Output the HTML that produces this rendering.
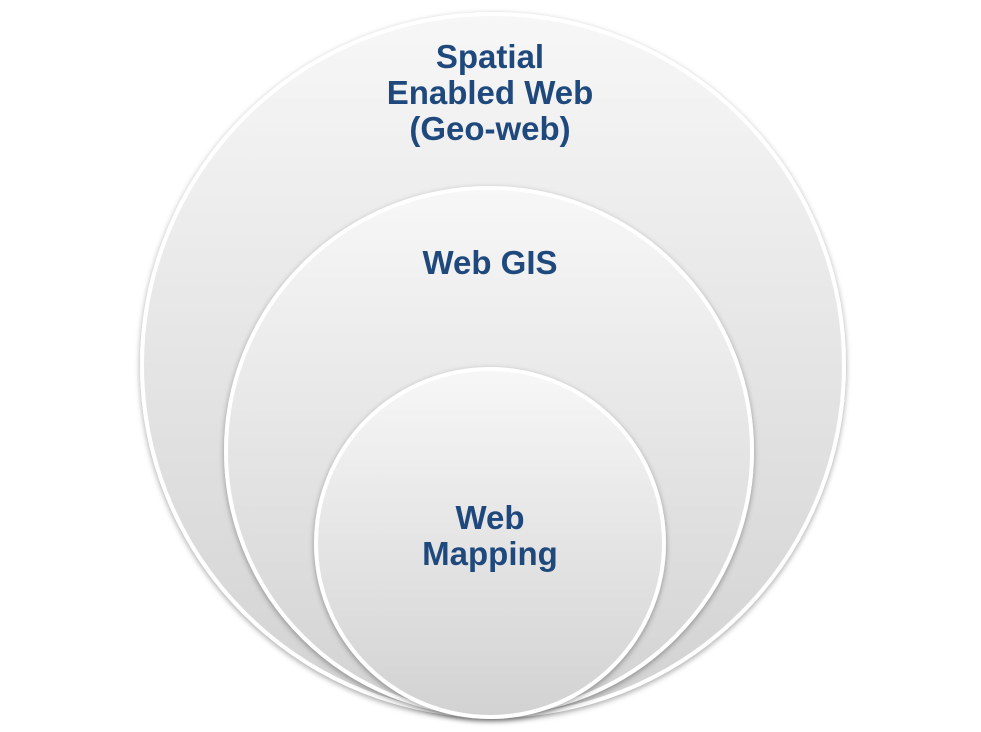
<!DOCTYPE html>
<html><head><meta charset="utf-8"><style>
body{margin:0;width:981px;height:727px;background:#fff;overflow:hidden;font-family:"Liberation Sans",Arial,sans-serif}
</style></head><body>
<svg width="981" height="727" xmlns="http://www.w3.org/2000/svg">
<defs>
<linearGradient id="g" x1="0" y1="0" x2="0" y2="1">
<stop offset="0" stop-color="#f7f7f7"/><stop offset="1" stop-color="#d2d2d2"/>
</linearGradient>
<filter id="s" x="-10%" y="-10%" width="120%" height="120%"><feDropShadow dx="0" dy="2" stdDeviation="3" flood-color="#000" flood-opacity="0.35"/></filter>
</defs>
<circle cx="493" cy="365" r="351" fill="url(#g)" stroke="#fff" stroke-width="4" filter="url(#s)"/>
<circle cx="489" cy="451" r="263" fill="url(#g)" stroke="#fff" stroke-width="4" filter="url(#s)"/>
<circle cx="490" cy="543" r="174" fill="url(#g)" stroke="#fff" stroke-width="4" filter="url(#s)"/>
<g fill="#1f497d" font-weight="bold" font-size="33" text-anchor="middle" font-family="Liberation Sans, Arial, sans-serif">
<text x="490" y="68">Spatial</text>
<text x="490" y="104">Enabled Web</text>
<text x="490" y="140">(Geo-web)</text>
<text x="490" y="274">Web GIS</text>
<text x="490" y="529">Web</text>
<text x="490" y="565">Mapping</text>
</g>
</svg>
</body></html>
